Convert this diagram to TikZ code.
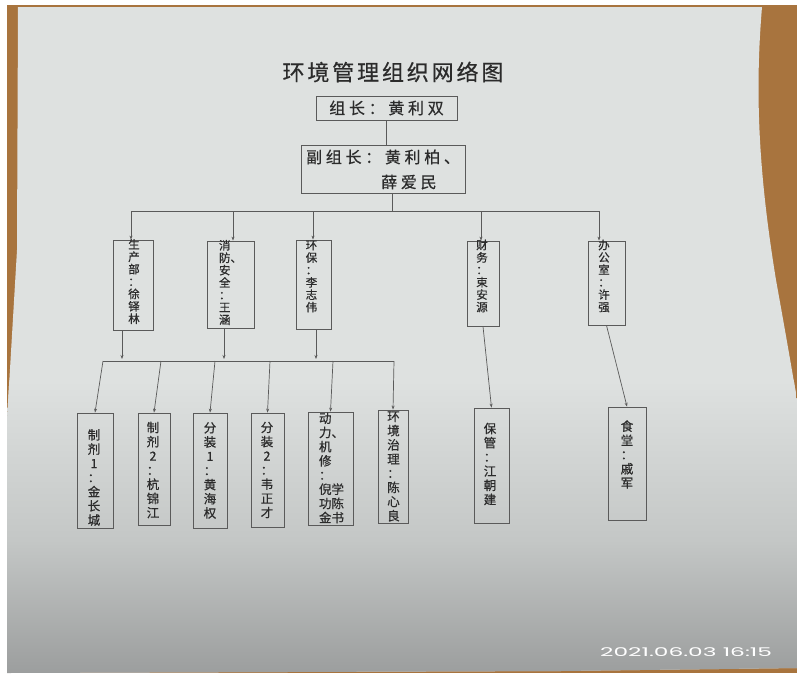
\documentclass[tikz,border=0pt]{standalone}
\usepackage{fontspec}
\usepackage{graphicx}
\newfontfamily\cjk[FakeBold=0.6]{Noto Sans CJK SC}
\newfontfamily\cjktitle[LetterSpace=13,FakeBold=0.5]{Noto Sans CJK SC}
\newfontfamily\cjkwide[LetterSpace=23,FakeBold=0.5]{Noto Sans CJK SC}
\newfontfamily\stampfont{Poppins}
\usetikzlibrary{arrows.meta,calc}
\definecolor{paper}{HTML}{DEE1E0}
\definecolor{papermid}{HTML}{C4C7C6}
\definecolor{paperdark}{HTML}{9C9E9E}
\definecolor{wood}{HTML}{A8743E}
\definecolor{ink}{HTML}{2B2B2B}
\definecolor{linec}{HTML}{5A5A5A}
\begin{document}
\begin{tikzpicture}[x=1pt,y=-1pt,
  orgbox/.style={draw=linec, line width=0.8pt, inner sep=0pt, rectangle},
  vtext/.style={text=ink, align=center, inner sep=0pt, font=\cjk\fontsize{11.5}{12.4}\selectfont},
  vtextb/.style={text=ink, align=center, inner sep=0pt, font=\cjk\fontsize{12.5}{14.2}\selectfont},
  conn/.style={draw=linec, line width=0.7pt},
  arr/.style={conn, -{Stealth[length=4pt,width=3pt]}},
]
\useasboundingbox (0,0) rectangle (797,673);
% photo background
\fill[white] (0,0) rectangle (797,673);
\fill[wood] (7,5) rectangle (797,673);
\begin{scope}
\clip (18,7) -- (762,7) .. controls (755,90) and (758,170) .. (776,280)
      .. controls (785,330) and (792,370) .. (797,400) -- (797,668)
      -- (560,671) -- (7,673) -- (7,420) -- (17,250) -- cycle;
\fill[paper] (0,0) rectangle (797,673);
\shade[top color=paper, bottom color=papermid] (0,380) rectangle (797,540);
\shade[top color=papermid, bottom color=paperdark] (0,539.5) rectangle (797,673);
\end{scope}
\node[text=white, anchor=west, inner sep=0pt] (stamp) at (600,652)
  {\stampfont\fontsize{12}{12}\selectfont\scalebox{1.94}[1]{2021.06.03 16:15}};

% title
\node[text=ink, inner sep=0pt] (title) at (393,72) {\cjktitle\fontsize{22}{26}\selectfont 环境管理组织网络图};

% leader
\node[orgbox, minimum width=141pt, minimum height=24pt, text=ink,
      font=\cjkwide\fontsize{16}{18}\selectfont] (lead) at (386.5,108) {组长：黄利双};
\node[orgbox, minimum width=164pt, minimum height=48pt] (dep) at (383,169) {};
\node[text=ink, inner sep=0pt, align=left, anchor=west,
      font=\cjkwide\fontsize{16}{25}\selectfont] (dept) at (306,169.5)
  {副组长：黄利柏、\\\phantom{副组长：}薛爱民};

% first level
\node[orgbox, minimum width=40pt, minimum height=90pt] (p1) at (133,285) {};
\node[vtext] (p1t) at (134,281.5) {生\\产\\部\\：\\徐\\铎\\林};
\node[orgbox, minimum width=47pt, minimum height=87pt] (p2) at (230.5,284.5) {};
\node[vtext, align=left, text width=23pt] (p2t) at (230.5,282.5) {消\\防、\\安\\全\\：\\王\\涵};
\node[orgbox, minimum width=35pt, minimum height=89pt] (p3) at (313.5,284.5) {};
\node[vtext] (p3t) at (311.5,276.5) {环\\保\\：\\李\\志\\伟};
\node[orgbox, minimum width=32pt, minimum height=85pt] (p4) at (483,283.5) {};
\node[vtext] (p4t) at (482,276) {财\\务\\：\\束\\安\\源};
\node[orgbox, minimum width=37pt, minimum height=84pt] (p5) at (606.5,283) {};
\node[vtext] (p5t) at (604,276) {办\\公\\室\\：\\许\\强};

% second level
\node[orgbox, minimum width=36pt, minimum height=115pt] (q1) at (95,470.5) {};
\node[vtextb] (q1t) at (94,477.5) {制\\剂\\1\\：\\金\\长\\城};
\node[orgbox, minimum width=32pt, minimum height=112pt] (q2) at (154,469) {};
\node[vtextb] (q2t) at (153,470) {制\\剂\\2\\：\\杭\\锦\\江};
\node[orgbox, minimum width=34pt, minimum height=115pt] (q3) at (210,470.5) {};
\node[vtextb] (q3t) at (210,470.5) {分\\装\\1\\：\\黄\\海\\权};
\node[orgbox, minimum width=33pt, minimum height=114pt] (q4) at (267.5,470) {};
\node[vtextb] (q4t) at (267,470) {分\\装\\2\\：\\韦\\正\\才};
\node[orgbox, minimum width=45pt, minimum height=113pt] (q5) at (330.5,468.5) {};
\node[vtextb, align=left, text width=25pt] (q5t) at (331.5,468) {动\\力、\\机\\修\\：\\倪学\\功陈\\金书};
\node[orgbox, minimum width=30pt, minimum height=113pt] (q6) at (393,466.5) {};
\node[vtextb] (q6t) at (393.5,466.5) {环\\境\\治\\理\\：\\陈\\心\\良};
\node[orgbox, minimum width=35pt, minimum height=115pt] (q7) at (491.5,465.5) {};
\node[vtextb] (q7t) at (490,464) {保\\管\\：\\江\\朝\\建};
\node[orgbox, minimum width=38pt, minimum height=113pt] (q8) at (627,463.5) {};
\node[vtextb] (q8t) at (627,454.5) {食\\堂\\：\\戚\\军};

% connectors top
\draw[conn] (lead.south) -- (lead.south |- dep.north);
\coordinate (bus0) at (392,211);
\draw[conn] (dep.south -| bus0) -- (bus0);
\coordinate (t1) at (131,211);
\coordinate (t2) at (233,211);
\coordinate (t3) at (313,211);
\coordinate (t4) at (481,211);
\coordinate (t5) at (599,211);
\draw[conn] (t1) -- (t5);
\draw[arr] (t1) -- (t1 |- p1.north);
\draw[arr] (t2) -- (t2 |- p2.north);
\draw[arr] (t3) -- (t3 |- p3.north);
\draw[arr] (t4) -- (t4 |- p4.north);
\draw[arr] (t5) -- (t5 |- p5.north);

% connectors second
\coordinate (m1) at (122,359);
\coordinate (m2) at (224,359);
\coordinate (m3) at (316,359);
\draw[arr] (m1 |- p1.south) -- (m1);
\draw[arr] (m2 |- p2.south) -- (m2);
\draw[arr] (m3 |- p3.south) -- (m3);
\coordinate (s1) at (103,361);
\coordinate (s2) at (161,361);
\coordinate (s3) at (215,361);
\coordinate (s4) at (270,361);
\coordinate (s5) at (333,361);
\coordinate (s6) at (394,361);
\draw[conn] (s1) -- (s6);
\draw[arr] (s1) -- (q1.north);
\draw[arr] (s2) -- (q2.north);
\draw[arr] (s3) -- (q3.north);
\draw[arr] (s4) -- (q4.north);
\draw[arr] (s5) -- (q5.north);
\draw[arr] (s6) -- (q6.north);
\draw[arr] (p4.south) -- (q7.north);
\draw[arr] (p5.south) -- (q8.north);
\end{tikzpicture}
\end{document}
